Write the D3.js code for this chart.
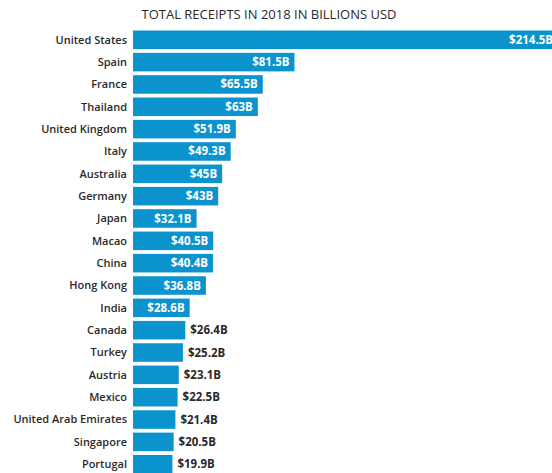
<!DOCTYPE html>
<html>
<head>
<meta charset="utf-8">
<script src="https://cdn.jsdelivr.net/npm/d3@7"></script>
<style>
  body { margin: 0; background: #fff; }
  svg { display: block; }
  .name { font-family: "Open Sans", sans-serif; font-weight: 600; font-size: 11px; fill: #2a2a2a; }
  .val { font-family: "Open Sans", sans-serif; font-weight: 700; font-size: 11.5px; }
  .title { font-family: "Open Sans", sans-serif; font-size: 13px; fill: #2a2a2a; }
</style>
</head>
<body>
<div id="chart"></div>
<script>
const countries = ["United States", "Spain", "France", "Thailand", "United Kingdom", "Italy",
    "Australia", "Germany", "Japan", "Macao", "China", "Hong Kong", "India", "Canada",
    "Turkey", "Austria", "Mexico", "United Arab Emirates", "Singapore", "Portugal"];
const receipts = [214.5, 81.5, 65.5, 63, 51.9, 49.3, 45, 43, 32.1, 40.5, 40.4, 36.8, 28.6,
    26.4, 25.2, 23.1, 22.5, 21.4, 20.5, 19.9];
const valueLabels = ["$214.5B", "$81.5B", "$65.5B", "$63B", "$51.9B", "$49.3B", "$45B", "$43B",
    "$32.1B", "$40.5B", "$40.4B", "$36.8B", "$28.6B", "$26.4B", "$25.2B", "$23.1B", "$22.5B",
    "$21.4B", "$20.5B", "$19.9B"];
const chartTitle = "TOTAL RECEIPTS IN 2018 IN BILLIONS USD";

const width = 552, height = 473;
const insideMin = 28; // values above this get the label inside the bar

const rows = countries.map((c, i) => ({ country: c, value: receipts[i], label: valueLabels[i] }));

const svg = d3.select("#chart").append("svg")
    .attr("width", width)
    .attr("height", height);

const x = d3.scaleLinear().domain([0, 214.5]).range([133, 558]);
const y = d3.scaleBand().domain(countries).range([28.6, 475.4])
    .paddingInner(0.17).paddingOuter(0.085);

svg.append("text")
    .attr("class", "title")
    .attr("x", 269)
    .attr("y", 19)
    .attr("text-anchor", "middle")
    .text(chartTitle);

const row = svg.append("g").selectAll("g")
    .data(rows)
    .join("g")
    .attr("transform", d => `translate(0,${y(d.country)})`);

row.append("rect")
    .attr("x", x(0))
    .attr("width", d => x(d.value) - x(0))
    .attr("height", y.bandwidth())
    .attr("fill", "#0a93cd");

row.append("text")
    .attr("class", "name")
    .attr("x", 127)
    .attr("y", y.bandwidth() / 2)
    .attr("dy", "0.35em")
    .attr("text-anchor", "end")
    .text(d => d.country);

row.append("text")
    .attr("class", "val")
    .attr("x", d => d.value > insideMin ? x(d.value) - 5 : x(d.value) + 5)
    .attr("y", y.bandwidth() / 2)
    .attr("dy", "0.35em")
    .attr("text-anchor", d => d.value > insideMin ? "end" : "start")
    .attr("fill", d => d.value > insideMin ? "#fff" : "#2a2a2a")
    .text(d => d.label);
</script>
</body>
</html>
